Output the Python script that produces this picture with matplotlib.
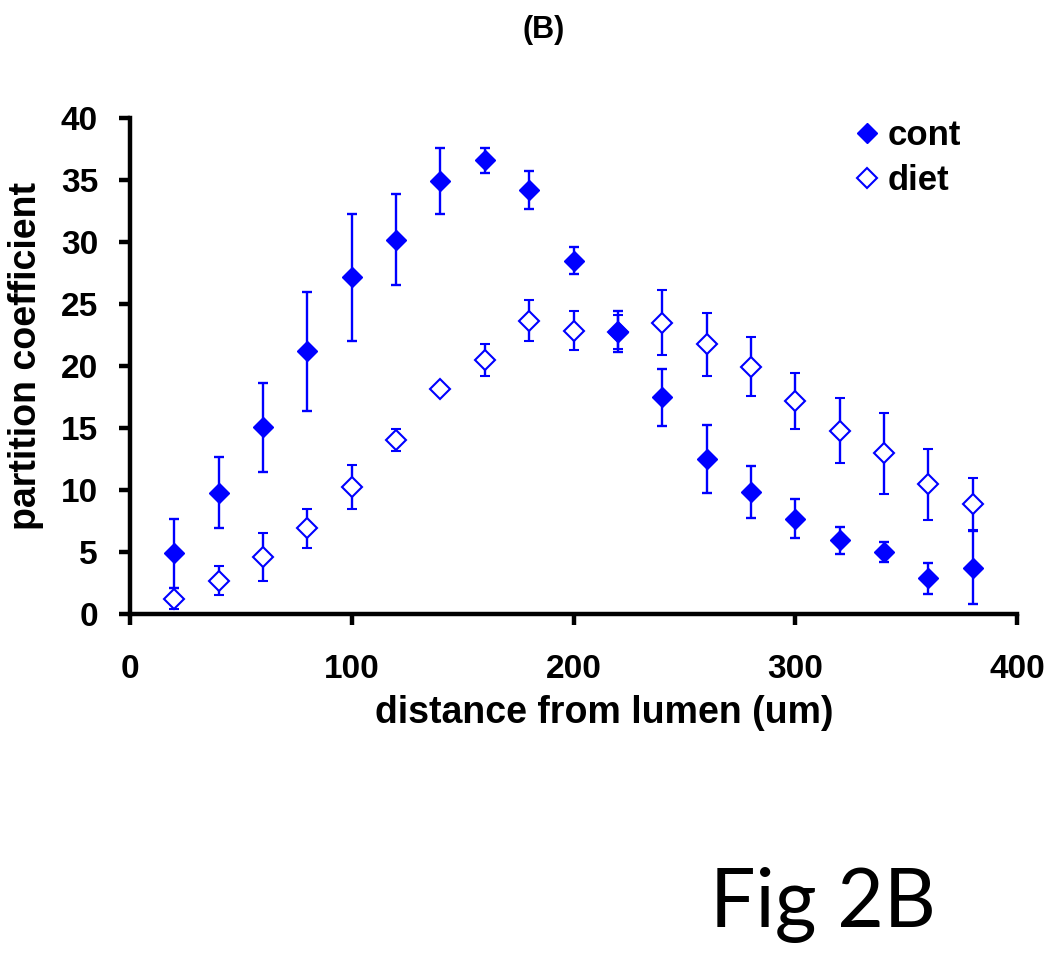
import matplotlib
matplotlib.use("Agg")
import matplotlib.pyplot as plt

# data
distance = [20, 40, 60, 80, 100, 120, 140, 160, 180, 200,
            220, 240, 260, 280, 300, 320, 340, 360, 380]
cont = [4.9, 9.8, 15.05, 21.2, 27.15, 30.2, 34.9, 36.6, 34.2, 28.5,
        22.75, 17.5, 12.5, 9.85, 7.7, 5.95, 5.0, 2.9, 3.75]
cont_err = [2.8, 2.9, 3.6, 4.8, 5.1, 3.65, 2.65, 1.0, 1.55, 1.1,
            1.65, 2.3, 2.75, 2.1, 1.6, 1.1, 0.8, 1.25, 2.95]
diet = [1.25, 2.7, 4.6, 6.9, 10.25, 14.05, 18.15, 20.5, 23.65, 22.85,
        22.75, 23.5, 21.75, 19.95, 17.2, 14.8, 12.95, 10.45, 8.9]
diet_err = [0.85, 1.2, 1.9, 1.55, 1.8, 0.9, 0.3, 1.3, 1.65, 1.55,
            1.35, 2.6, 2.55, 2.4, 2.25, 2.6, 3.3, 2.85, 2.1]

BLUE = "#0000ff"
plt.rcParams["font.family"] = ["Liberation Sans", "DejaVu Sans"]

fig = plt.figure(figsize=(10.5, 9.69), dpi=100)
ax = fig.add_axes([0.1238, 0.3663, 0.8448, 0.5119])

# diet first so the filled cont marker at 220 sits on top
ax.errorbar(distance, diet, yerr=diet_err, fmt="D", color=BLUE, ms=10.5,
            mfc="white", mec=BLUE, mew=1.5, ecolor=BLUE, elinewidth=1.7,
            capsize=3.8, capthick=1.7, label="diet", zorder=2)
ax.errorbar(distance, cont, yerr=cont_err, fmt="D", color=BLUE, ms=10.5,
            mfc=BLUE, mec=BLUE, ecolor=BLUE, elinewidth=1.7, capsize=3.8,
            capthick=1.7, label="cont", zorder=3)

ax.set_xlim(0, 400)
ax.set_ylim(0, 40)
ax.set_xticks([0, 100, 200, 300, 400])
ax.set_yticks(range(0, 41, 5))
for s in ["top", "right"]:
    ax.spines[s].set_visible(False)
for s in ["left", "bottom"]:
    ax.spines[s].set_linewidth(3.2)
ax.tick_params(direction="out", length=8, width=3.2, labelsize=24)
ax.tick_params(axis="y", pad=15)
ax.tick_params(axis="x", pad=21)
for lab in ax.get_xticklabels() + ax.get_yticklabels():
    lab.set_fontweight("bold")

ax.set_xlabel("distance from lumen (um)", fontsize=27, fontweight="bold")
ax.set_ylabel("partition coefficient", fontsize=27, fontweight="bold")
ax.xaxis.set_label_coords(0.535, -0.163)
ax.yaxis.set_label_coords(-0.097, 0.52)

handles, labels = ax.get_legend_handles_labels()
order = [1, 0]
handles = [handles[i][0] for i in order]
labels = [labels[i] for i in order]
leg = fig.legend(handles, labels, loc="upper left",
                 bbox_to_anchor=(853 / 1050, 1 - 119 / 969),
                 frameon=False, handlelength=0.8, handletextpad=0.2,
                 labelspacing=0.36, borderpad=0, borderaxespad=0,
                 prop={"weight": "bold", "size": 25})

fig.text(0.518, 0.969, "(B)", ha="center", va="center", fontsize=22,
         fontweight="bold")
fig.text(0.784, 0.0433, "Fig 2B", ha="center", va="baseline", fontsize=58,
         family=["Lato", "DejaVu Sans"])

fig.savefig("out.png", dpi=100)
